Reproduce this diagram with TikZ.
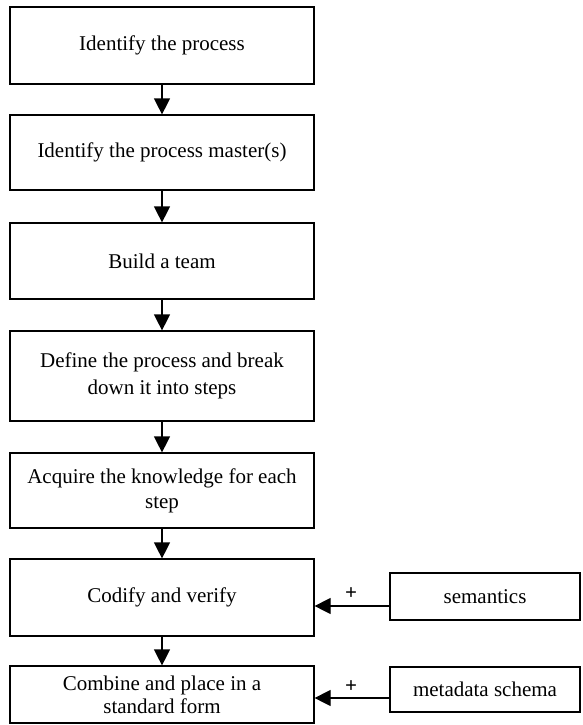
\documentclass[tikz,border=0pt]{standalone}
\usepackage{fontspec}
\setmainfont{Liberation Serif}
\usetikzlibrary{arrows.meta}
\begin{document}
\begin{tikzpicture}[x=1pt,y=-1pt,
  mainbox/.style={draw,line width=1.2pt,minimum width=304pt,inner sep=0pt,align=center,
    font=\fontsize{21}{26}\selectfont},
  sidebox/.style={draw,line width=1.2pt,minimum width=190pt,inner sep=0pt,align=center,
    font=\fontsize{21}{26}\selectfont},
  arr/.style={line width=1.2pt,-{Triangle[width=16pt,length=16pt]}},
  plus/.style={font=\bfseries\fontsize{21}{26}\selectfont,inner sep=0pt}]
\useasboundingbox (0,0) rectangle (582,725);
\node[mainbox,minimum height=77pt] (b1) at (162,45.5) {Identify the process};
\node[mainbox,minimum height=75pt] (b2) at (162,152.5) {Identify the process master(s)};
\node[mainbox,minimum height=76pt] (b3) at (162,261) {Build a team};
\node[mainbox,minimum height=90pt,font=\fontsize{21}{27}\selectfont] (b4) at (162,376) {Define the process and break\\down it into steps};
\node[mainbox,minimum height=75pt,font=\fontsize{21}{25}\selectfont] (b5) at (162,490.5) {Acquire the knowledge for each\\step};
\node[mainbox,minimum height=77pt] (b6) at (162,597.5) {Codify and verify};
\node[mainbox,minimum height=57pt,font=\fontsize{21}{23}\selectfont] (b7) at (162,694.5) {Combine and place in a\\standard form};
\node[sidebox,minimum height=47pt] (s1) at (485,596.5) {semantics};
\node[sidebox,minimum height=45pt] (s2) at (485,689.5) {metadata schema};
\draw[arr] (b1) -- (b2);
\draw[arr] (b2) -- (b3);
\draw[arr] (b3) -- (b4);
\draw[arr] (b4) -- (b5);
\draw[arr] (b5) -- (b6);
\draw[arr] (b6) -- (b7);
\coordinate (a1) at (0,606);
\coordinate (a2) at (0,698);
\draw[arr] (s1.west |- a1) -- (b6.east |- a1);
\draw[arr] (s2.west |- a2) -- (b7.east |- a2);
\node[plus] (p1) at (351,594) {+};
\node[plus] (p2) at (351,687) {+};
\end{tikzpicture}
\end{document}
